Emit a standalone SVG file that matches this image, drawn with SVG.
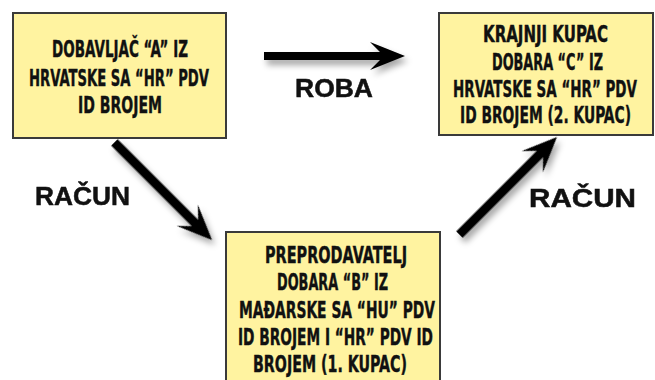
<svg xmlns="http://www.w3.org/2000/svg" width="655" height="380" viewBox="0 0 655 380">
  <style>
    .box { fill: #FFF3A0; stroke: #3a3a3a; stroke-width: 2; }
    .nt { font-family: "DejaVu Sans Condensed", "DejaVu Sans", "Liberation Sans", sans-serif; font-weight: bold; font-size: 23px; fill: #111; stroke: #111; stroke-width: 0.4; text-anchor: middle; }
    .lbl { font-family: "Liberation Sans", Arial, sans-serif; font-weight: bold; font-size: 25px; fill: #111; stroke: #111; stroke-width: 0.5; }
    .arrow { fill: #000; }
  </style>
  <defs>
    <filter id="shadow" x="-20%" y="-20%" width="150%" height="160%">
      <feDropShadow dx="3" dy="5" stdDeviation="3" flood-color="#000" flood-opacity="0.35"/>
    </filter>
  </defs>

  <rect width="655" height="380" fill="#fff"/>

  <g id="node-a">
    <rect class="box" x="13" y="13" width="213" height="125"/>
    <text class="nt" x="120" y="57" textLength="136" lengthAdjust="spacingAndGlyphs">DOBAVLJAČ “A” IZ</text>
    <text class="nt" x="119" y="85.5" textLength="180" lengthAdjust="spacingAndGlyphs">HRVATSKE SA “HR” PDV</text>
    <text class="nt" x="120" y="113" textLength="84" lengthAdjust="spacingAndGlyphs">ID BROJEM</text>
  </g>

  <g id="node-c">
    <rect class="box" x="439" y="13" width="214" height="122"/>
    <text class="nt" x="545.5" y="42" textLength="125" lengthAdjust="spacingAndGlyphs">KRAJNJI KUPAC</text>
    <text class="nt" x="547.5" y="70" textLength="111" lengthAdjust="spacingAndGlyphs">DOBARA “C” IZ</text>
    <text class="nt" x="545" y="97" textLength="184" lengthAdjust="spacingAndGlyphs">HRVATSKE SA “HR” PDV</text>
    <text class="nt" x="545.5" y="123" textLength="171" lengthAdjust="spacingAndGlyphs">ID BROJEM (2. KUPAC)</text>
  </g>

  <g id="node-b">
    <rect class="box" x="226" y="232" width="214" height="160"/>
    <text class="nt" x="336" y="263" textLength="142" lengthAdjust="spacingAndGlyphs">PREPRODAVATELJ</text>
    <text class="nt" x="332.5" y="290" textLength="111" lengthAdjust="spacingAndGlyphs">DOBARA “B” IZ</text>
    <text class="nt" x="337" y="317.5" textLength="196" lengthAdjust="spacingAndGlyphs">MAĐARSKE SA “HU” PDV</text>
    <text class="nt" x="335.5" y="345" textLength="195" lengthAdjust="spacingAndGlyphs">ID BROJEM I “HR” PDV ID</text>
    <text class="nt" x="330" y="372" textLength="154" lengthAdjust="spacingAndGlyphs">BROJEM (1. KUPAC)</text>
  </g>

  <g id="connectors" filter="url(#shadow)">
    <!-- goods: A to C -->
    <path class="arrow" d="M264,52 L380,52 L370,42 L405,56 L370,70 L380,60 L264,60 Z"/>
    <!-- invoice: A to B -->
    <g transform="translate(212,240) rotate(45)">
      <path class="arrow" d="M-138,-4.5 L-24,-4.5 L-35,-15 L0,0 L-35,15 L-24,4.5 L-138,4.5 Z"/>
    </g>
    <!-- invoice: B to C -->
    <g transform="translate(557,137) rotate(-45)">
      <path class="arrow" d="M-138,-4.5 L-24,-4.5 L-35,-15 L0,0 L-35,15 L-24,4.5 L-138,4.5 Z"/>
    </g>
  </g>

  <g id="labels">
    <text class="lbl" x="295" y="97" textLength="78" lengthAdjust="spacingAndGlyphs">ROBA</text>
    <text class="lbl" x="35" y="205" textLength="95" lengthAdjust="spacingAndGlyphs">RAČUN</text>
    <text class="lbl" x="529" y="207" textLength="107" lengthAdjust="spacingAndGlyphs">RAČUN</text>
  </g>
</svg>
